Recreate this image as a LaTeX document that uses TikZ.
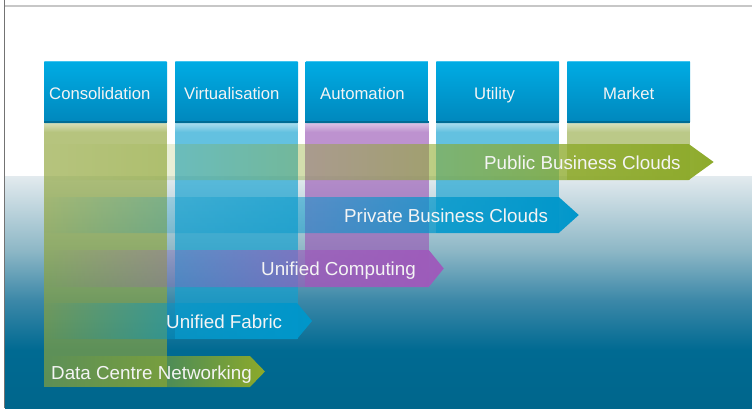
\documentclass[tikz,border=0pt]{standalone}
\usepackage{fontspec}
\setmainfont{Liberation Sans}
\usetikzlibrary{fadings}
\definecolor{hdrtop}{HTML}{00ACE4}
\definecolor{hdrbot}{HTML}{0087BC}
\definecolor{hdredge}{HTML}{006C94}
\definecolor{hdrhi}{HTML}{40C4F0}
\definecolor{olivecol}{HTML}{8FA53A}
\definecolor{bluecol}{HTML}{10A0D0}
\definecolor{purplecol}{HTML}{9B59B6}
\definecolor{greenarrow}{HTML}{8DAA2A}
\definecolor{bluearrow}{HTML}{0097CB}
\definecolor{purplearrow}{HTML}{9E5BBB}
\definecolor{bgA}{HTML}{00668C}
\definecolor{bgB}{HTML}{006A92}
\definecolor{bgC}{HTML}{3C88A8}
\definecolor{bgD}{HTML}{8DB7C6}
\definecolor{bgE}{HTML}{E2EAEE}
\definecolor{txt}{HTML}{F4F4F4}
\pgfdeclareverticalshading{bgshade}{100bp}{color(0bp)=(bgA); color(25bp)=(bgA); color(37.5bp)=(bgB); color(48.3bp)=(bgC); color(59bp)=(bgD); color(75bp)=(bgE); color(100bp)=(bgE)}
\tikzset{
  header/.style={minimum width=123pt, minimum height=62pt, inner sep=0pt,
    top color=hdrtop, bottom color=hdrbot, rounded corners=1pt},
  headertext/.style={anchor=base west, inner sep=0pt, text=txt, font=\fontsize{16.7}{20}\selectfont},
  tail/.style={opacity=0.65},
  arrowshape/.style={path fading=west},
  arrowtext/.style={anchor=base west, text=txt, inner sep=0pt, font=\fontsize{18.8}{22}\selectfont}
}
\begin{document}
\begin{tikzpicture}[x=1pt,y=-1pt]
\useasboundingbox (0,0) rectangle (752,408);
\fill[white] (0,0) rectangle (752,408);
% background gradient
\shade[shading=bgshade] (5,176.5) rectangle (752,408);
% frame lines
\draw[black!22, line width=1.2pt] (4.5,6) -- (752,6);
\draw[black!55, line width=1.2pt] (4.5,0) -- (4.5,408);
% column tails
\fill[olivecol, tail] (44,123) rectangle (167,387);
\fill[bluecol, tail] (175,123) rectangle (298,339);
\fill[purplecol, tail] (305,123) rectangle (429,287);
\fill[bluecol, tail] (436,123) rectangle (559,233);
\fill[olivecol, tail, opacity=0.6] (567,123) rectangle (690,180);
\foreach \a/\b in {44/167,175/298,305/429,436/559,567/690}{
  \fill[white, path fading=south, opacity=0.45] (\a,123) rectangle (\b,132);
}
% arrows
\fill[greenarrow, arrowshape] (44,144) -- (690,144) -- (715,162) -- (690,180) -- (44,180) -- cycle;
\fill[bluearrow, arrowshape] (44,197) -- (559,197) -- (579,215) -- (559,233) -- (44,233) -- cycle;
\fill[purplearrow, arrowshape] (44,250) -- (429,250) -- (444,268.5) -- (429,287) -- (44,287) -- cycle;
\fill[bluearrow, arrowshape] (44,303) -- (297,303) -- (312,321) -- (297,339) -- (44,339) -- cycle;
\fill[greenarrow, arrowshape] (44,356) -- (250,356) -- (265,371.5) -- (250,387) -- (44,387) -- cycle;
% headers
\node[header] (cons) at (105.5,92) {};
\node[header] (virt) at (236.5,92) {};
\node[header] (auto) at (367,92) {};
\node[header] (util) at (497.5,92) {};
\node[header] (mark) at (628.5,92) {};
\foreach \n in {cons,virt,auto,util,mark}{
  \fill[hdredge] ([yshift=2.5pt]\n.south west) rectangle (\n.south east);
  \draw[hdrhi, line width=1pt] ([xshift=1pt,yshift=-0.5pt]\n.north west) -- ([xshift=-1pt,yshift=-0.5pt]\n.north east);
}
\node[headertext] (consT) at (49,99) {Consolidation};
\node[headertext] (virtT) at (184,99) {Virtualisation};
\node[headertext] (autoT) at (320,99) {Automation};
\node[headertext] (utilT) at (474,99) {Utility};
\node[headertext] (markT) at (603,99) {Market};
% arrow labels
\node[arrowtext] (pbc) at (484,169) {Public Business Clouds};
\node[arrowtext] (prv) at (344,222) {Private Business Clouds};
\node[arrowtext] (ucp) at (261,275.7) {Unified Computing};
\node[arrowtext] (ufb) at (166,328.7) {Unified Fabric};
\node[arrowtext] (dcn) at (51,379) {Data Centre Networking};
\end{tikzpicture}
\end{document}
